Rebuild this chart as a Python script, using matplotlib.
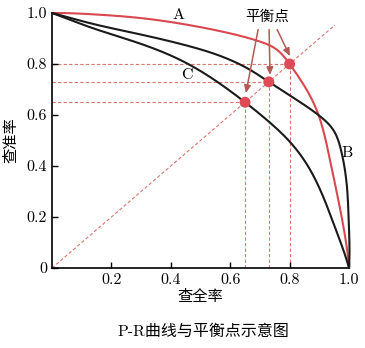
import numpy as np
import matplotlib
matplotlib.use("Agg")
import matplotlib.pyplot as plt

# P-R curves (recall, precision)
a_recall = [0.0, 0.15, 0.30, 0.45, 0.60, 0.70, 0.75, 0.80, 0.891, 0.913, 0.936, 0.964, 0.987, 1.0]
a_precision = [1.0, 0.994, 0.98, 0.955, 0.92, 0.888, 0.862, 0.80, 0.62, 0.541, 0.424, 0.267, 0.123, 0.0]

b_recall = [0.0, 0.105, 0.274, 0.442, 0.554, 0.667, 0.73, 0.80, 0.897, 0.945, 0.973, 0.992, 0.999, 1.0]
b_precision = [1.0, 0.967, 0.922, 0.876, 0.837, 0.777, 0.73, 0.677, 0.60, 0.545, 0.463, 0.332, 0.188, 0.0]

c_recall = [0.0, 0.105, 0.274, 0.442, 0.554, 0.65, 0.735, 0.80, 0.86, 0.91, 0.955, 1.0]
c_precision = [1.0, 0.954, 0.889, 0.81, 0.732, 0.65, 0.569, 0.496, 0.403, 0.288, 0.153, 0.0]

# break-even points (precision == recall) for A, B, C
bep_values = [0.80, 0.73, 0.65]

curve_names = ["A", "B", "C"]
x_ticks = [0.2, 0.4, 0.6, 0.8, 1.0]
x_tick_labels = ["0.2", "0.4", "0.6", "0.8", "1.0"]
y_ticks = [0, 0.2, 0.4, 0.6, 0.8, 1.0]
y_tick_labels = ["0", "0.2", "0.4", "0.6", "0.8", "1.0"]

SERIF = ["cmr10", "DejaVu Serif"]
CJK = ["Noto Sans CJK SC", "DejaVu Sans"]
MIXED = ["cmr10", "Noto Sans CJK SC", "DejaVu Sans"]

RED = "#d9484f"
DASH = "#d9766e"
ARROW = "#b35a57"


def natural_spline(x, y, xq):
    """Natural cubic spline through (x, y), evaluated at xq."""
    x = np.asarray(x, float)
    y = np.asarray(y, float)
    n = len(x)
    h = np.diff(x)
    A = np.zeros((n, n))
    rhs = np.zeros(n)
    A[0, 0] = A[-1, -1] = 1.0
    for i in range(1, n - 1):
        A[i, i - 1] = h[i - 1]
        A[i, i] = 2 * (h[i - 1] + h[i])
        A[i, i + 1] = h[i]
        rhs[i] = 6 * ((y[i + 1] - y[i]) / h[i] - (y[i] - y[i - 1]) / h[i - 1])
    M = np.linalg.solve(A, rhs)
    k = np.clip(np.searchsorted(x, xq) - 1, 0, n - 2)
    dx1 = xq - x[k]
    dx2 = x[k + 1] - xq
    hk = h[k]
    return (M[k] * dx2**3 / (6 * hk) + M[k + 1] * dx1**3 / (6 * hk)
            + (y[k] / hk - M[k] * hk / 6) * dx2
            + (y[k + 1] / hk - M[k + 1] * hk / 6) * dx1)


def smooth_curve(xs, ys, n=500):
    """Smooth path through the points, traced in polar form about the origin."""
    xs = np.asarray(xs, float)
    ys = np.asarray(ys, float)
    theta = np.arctan2(ys, xs)
    r = np.hypot(xs, ys)
    order = np.argsort(theta)
    th_q = np.linspace(theta[order][0], theta[order][-1], n)
    r_q = natural_spline(theta[order], r[order], th_q)
    return r_q * np.cos(th_q), r_q * np.sin(th_q)


fig = plt.figure(figsize=(3.65, 3.48), dpi=100)
ax = fig.add_axes([52 / 365, 80 / 348, 297 / 365, 255 / 348])
ax.set_xlim(0, 1)
ax.set_ylim(0, 1)

dash = (0, (3, 2))
# reference diagonal P = R
ax.plot([0, 0.953], [0, 0.953], ls=dash, color=DASH, lw=0.8, zorder=1)

# guide lines to the break-even points
for v in bep_values:
    ax.plot([0, v], [v, v], ls=dash, color=DASH, lw=0.8, zorder=1)
    ax.plot([v, v], [0, v], ls=dash, color=DASH, lw=0.8, zorder=1)

for xs, ys, col in [(a_recall, a_precision, RED),
                    (b_recall, b_precision, "#1a1a1a"),
                    (c_recall, c_precision, "#1a1a1a")]:
    sx, sy = smooth_curve(xs, ys)
    ax.plot(sx, sy, color=col, lw=1.5, clip_on=False, zorder=3,
            solid_capstyle="round")

ax.scatter(bep_values, bep_values, s=62, color="#de4a56", zorder=4,
           edgecolors="none")

# curve names
ax.text(0.425, 0.99, curve_names[0], fontsize=11.5, family=SERIF,
        ha="center", va="center")
ax.text(0.995, 0.45, curve_names[1], fontsize=11.5, family=SERIF,
        ha="center", va="center")
ax.text(0.455, 0.755, curve_names[2], fontsize=11.5, family=SERIF,
        ha="center", va="center")

# break-even annotation
ax.text(0.724, 0.984, "平衡点", fontsize=10.5, family=CJK,
        ha="center", va="center")
tails = [(0.694, 0.935), (0.731, 0.935), (0.758, 0.935)]
heads = [(0.653, 0.686), (0.734, 0.757), (0.801, 0.831)]
for (tx, ty), (hx, hy) in zip(tails, heads):
    ax.annotate("", xy=(hx, hy), xytext=(tx, ty),
                arrowprops=dict(arrowstyle="-|>,head_length=0.45,head_width=0.2",
                                color=ARROW, lw=1.1, shrinkA=0, shrinkB=0),
                zorder=5)

for side in ["top", "right"]:
    ax.spines[side].set_visible(False)
for side in ["left", "bottom"]:
    ax.spines[side].set_linewidth(1.2)

ax.set_xticks(x_ticks)
ax.set_xticklabels(x_tick_labels, family=SERIF, fontsize=11.5)
ax.set_yticks(y_ticks)
ax.set_yticklabels(y_tick_labels, family=SERIF, fontsize=11.5)
ax.tick_params(direction="in", length=4, width=1, pad=3.5)

ax.set_xlabel("查全率", family=CJK, fontsize=11, labelpad=1)
ax.set_ylabel("查准率", family=CJK, fontsize=11, labelpad=5)

fig.text(203 / 365, 1 - 332 / 348, "P-R曲线与平衡点示意图", family=MIXED,
         fontsize=11.5, ha="center", va="center")

fig.savefig("out.png", dpi=100)
